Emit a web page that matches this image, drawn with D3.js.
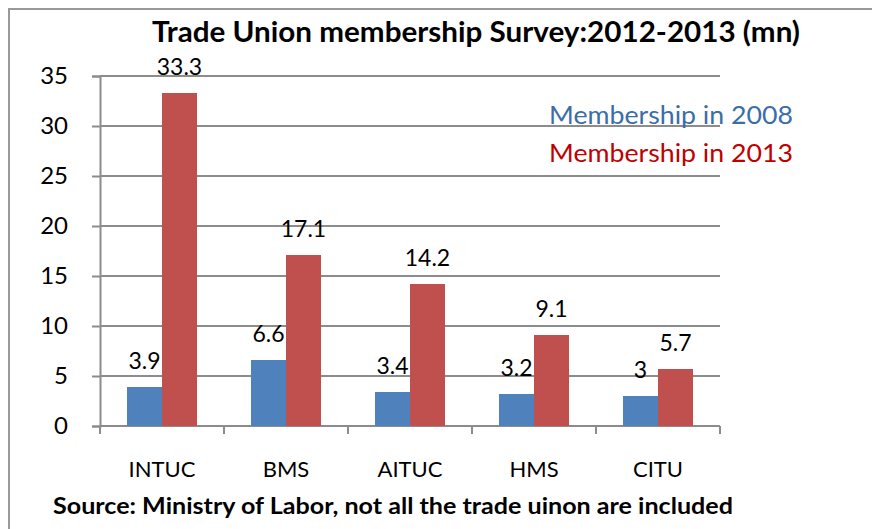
<!DOCTYPE html>
<html>
<head>
<meta charset="utf-8">
<script src="https://cdn.jsdelivr.net/npm/d3@7"></script>
<style>
  body { margin: 0; background: #fff; }
  svg { display: block; font-family: Lato, "Open Sans", sans-serif; }
</style>
</head>
<body>
<svg width="872" height="529"></svg>
<script>
// data
const categories = ["INTUC", "BMS", "AITUC", "HMS", "CITU"];
const seriesNames = ["Membership in 2008", "Membership in 2013"];
const values2008 = [3.9, 6.6, 3.4, 3.2, 3];
const values2013 = [33.3, 17.1, 14.2, 9.1, 5.7];
const yTicks = [0, 5, 10, 15, 20, 25, 30, 35];

const barColors = ["#4F81BD", "#C0504D"];
const legendColors = ["#3B6EA8", "#C00000"];

const rows = categories.map((c, i) => ({
    cat: c,
    vals: [values2008[i], values2013[i]],
}));

const svg = d3.select("svg");

// outer frame (left + top only visible)
svg.append("path")
    .attr("d", "M9,529V9H872")
    .attr("fill", "none")
    .attr("stroke", "#9a9a9a")
    .attr("stroke-width", 2);

// scales
const x0 = d3.scaleBand().domain(categories).range([100, 720]).padding(0);
const x1 = d3
    .scaleBand()
    .domain([0, 1])
    .range([0, x0.bandwidth()])
    .paddingInner(0)
    .paddingOuter(0.771);
const y = d3.scaleLinear().domain([0, 35]).range([426, 76]);

// gridlines
svg.append("g")
    .selectAll("line")
    .data(yTicks.filter(d => d > 0))
    .enter()
    .append("line")
    .attr("x1", 100)
    .attr("x2", 720)
    .attr("y1", d => y(d))
    .attr("y2", d => y(d))
    .attr("stroke", "#8c8c8c")
    .attr("stroke-width", 2);

// y axis
const yAxis = svg.append("g")
    .attr("transform", "translate(100,0)")
    .call(d3.axisLeft(y).tickValues(yTicks).tickSize(8).tickPadding(24));
yAxis.select(".domain").attr("stroke", "#8c8c8c").attr("stroke-width", 2);
yAxis.selectAll(".tick line").attr("stroke", "#8c8c8c").attr("stroke-width", 2);
yAxis.selectAll(".tick text")
    .attr("fill", "#000")
    .style("font-size", "24px")
    .style("font-family", "Lato, sans-serif");

// x axis: ticks at band boundaries
const xAxis = svg.append("g").attr("transform", "translate(0,426)");
xAxis.append("line")
    .attr("x1", 100)
    .attr("x2", 720)
    .attr("stroke", "#8c8c8c")
    .attr("stroke-width", 2);
xAxis.selectAll(".bt")
    .data(categories.concat(["end"]))
    .enter()
    .append("line")
    .attr("class", "bt")
    .attr("x1", (d, i) => (i < categories.length ? x0(d) : 720))
    .attr("x2", (d, i) => (i < categories.length ? x0(d) : 720))
    .attr("y1", 0)
    .attr("y2", 8)
    .attr("stroke", "#8c8c8c")
    .attr("stroke-width", 2);
xAxis.selectAll(".cl")
    .data(categories)
    .enter()
    .append("text")
    .attr("class", "cl")
    .attr("x", d => x0(d) + x0.bandwidth() / 2)
    .attr("y", 51)
    .attr("text-anchor", "middle")
    .style("font-size", "22px")
    .text(d => d);

// bars
const groups = svg.append("g")
    .selectAll("g")
    .data(rows)
    .enter()
    .append("g")
    .attr("transform", d => "translate(" + x0(d.cat) + ",0)");

groups.selectAll("rect")
    .data(d => d.vals)
    .enter()
    .append("rect")
    .attr("x", (d, i) => x1(i))
    .attr("width", x1.bandwidth())
    .attr("y", d => y(d))
    .attr("height", d => y(0) - y(d))
    .attr("fill", (d, i) => barColors[i]);

groups.selectAll("text")
    .data(d => d.vals)
    .enter()
    .append("text")
    .attr("x", (d, i) => x1(i) + x1.bandwidth() / 2)
    .attr("y", d => y(d) - 18)
    .attr("text-anchor", "middle")
    .style("font-size", "23px")
    .text(d => d);

// legend
svg.selectAll(".legend")
    .data(seriesNames)
    .enter()
    .append("text")
    .attr("class", "legend")
    .attr("x", 549)
    .attr("y", (d, i) => 124 + i * 38)
    .attr("fill", (d, i) => legendColors[i])
    .attr("textLength", 244)
    .attr("lengthAdjust", "spacingAndGlyphs")
    .style("font-size", "25px")
    .text(d => d);

// title
svg.append("text")
    .attr("x", 152)
    .attr("y", 42)
    .attr("textLength", 648)
    .attr("lengthAdjust", "spacingAndGlyphs")
    .style("font-size", "28px")
    .style("font-weight", "bold")
    .text("Trade Union membership Survey:2012-2013 (mn)");

// source note
svg.append("text")
    .attr("x", 53)
    .attr("y", 514)
    .attr("textLength", 680)
    .attr("lengthAdjust", "spacingAndGlyphs")
    .style("font-size", "23px")
    .style("font-weight", "bold")
    .text("Source: Ministry of Labor, not all the trade uinon are included");
</script>
</body>
</html>
